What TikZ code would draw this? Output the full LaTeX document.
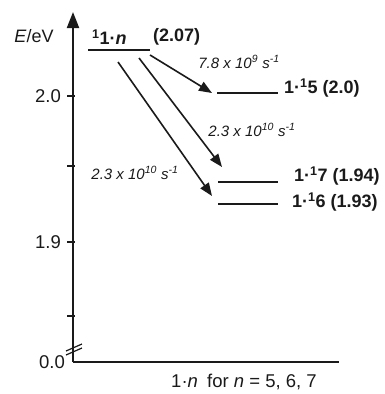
\documentclass[tikz,border=0pt]{standalone}
\usepackage{fontspec}
\setmainfont{Liberation Sans}
\usepackage{xcolor}
\usetikzlibrary{positioning, arrows.meta}
\definecolor{inkBlack}{HTML}{1A1A1A}

\begin{document}
\begin{tikzpicture}[
  x=1pt, y=-1pt,
  every node/.style={inner sep=0pt, color=inkBlack},
  axisLine/.style={draw=inkBlack, line width=2pt},
  axTick/.style={draw=inkBlack, line width=1.6pt},
  lvl/.style={draw=inkBlack, line width=2pt},
  lvlLbl/.style={font=\fontsize{18}{21}\selectfont\bfseries, anchor=west},
  rate/.style={draw=inkBlack, line width=1.6pt, -{Triangle[length=13pt, width=10pt]}},
  rateLbl/.style={font=\fontsize{15}{18}\selectfont\itshape},
  numLbl/.style={font=\fontsize{18.5}{21}\selectfont, anchor=east},
]
  \useasboundingbox (0,0) rectangle (384,394);

  % axes
  \coordinate (O) at (73,362);
  \coordinate (yTop) at (73,12);
  \coordinate (xEnd) at (339,362);
  \draw[axisLine, -{Triangle[length=16pt, width=12pt]}] (O) -- (yTop);
  \draw[axisLine] (O) -- (xEnd);
  \node[font=\fontsize{18}{21}\selectfont] (Elab) at (34,36) {\textit{E}/eV};

  % axis break
  \draw[axTick, line width=1.2pt] (66,351) -- (82,344);
  \draw[axTick, line width=1.2pt] (66,355) -- (82,348);

  % ticks and their values
  \foreach \yy/\txt in {96/2.0, 166/, 242/1.9, 316/} {
    \draw[axTick] (67,\yy) -- (75,\yy);
    \node[numLbl] at (61,\yy) {\txt};
  }
  \node[numLbl] (zero) at (65,362) {0.0};

  % levels
  \coordinate (S1a) at (88,50);   \coordinate (S1b) at (150,50);
  \coordinate (S5a) at (217,93);  \coordinate (S5b) at (278,93);
  \coordinate (S7a) at (218,182); \coordinate (S7b) at (278,182);
  \coordinate (S6a) at (218,204); \coordinate (S6b) at (278,204);
  \draw[lvl] (S1a) -- (S1b);
  \draw[lvl] (S5a) -- (S5b);
  \draw[lvl] (S7a) -- (S7b);
  \draw[lvl] (S6a) -- (S6b);

  \node[lvlLbl] (L1) at (92,37) {\textsuperscript{1}1·\textit{n}};
  \node[lvlLbl] (L1e) at (153,37) {(2.07)};
  \node[lvlLbl, right=6pt of S5b, yshift=5pt] (L5) {1·\textsuperscript{1}5 (2.0)};
  \node[lvlLbl, right=16pt of S7b, yshift=6pt] (L7) {1·\textsuperscript{1}7 (1.94)};
  \node[lvlLbl, right=14pt of S6b, yshift=2pt] (L6) {1·\textsuperscript{1}6 (1.93)};

  % transitions
  \coordinate (A5s) at (150,55); \coordinate (A5e) at (212,93);
  \coordinate (A7s) at (139,58); \coordinate (A7e) at (222,167);
  \coordinate (A6s) at (118,62); \coordinate (A6e) at (212,196);
  \draw[rate] (A5s) -- (A5e);
  \draw[rate] (A7s) -- (A7e);
  \draw[rate] (A6s) -- (A6e);

  \node[rateLbl] (k5) at (239,62) {7.8 x 10\textsuperscript{9} s\textsuperscript{-1}};
  \node[rateLbl] (k7) at (252,130) {2.3 x 10\textsuperscript{10} s\textsuperscript{-1}};
  \node[rateLbl] (k6) at (135,173) {2.3 x 10\textsuperscript{10} s\textsuperscript{-1}};

  \node[font=\fontsize{18.5}{21}\selectfont] (xlab) at (244,382)
        {1·\textit{n}\enspace for \textit{n} = 5, 6, 7};
\end{tikzpicture}
\end{document}
